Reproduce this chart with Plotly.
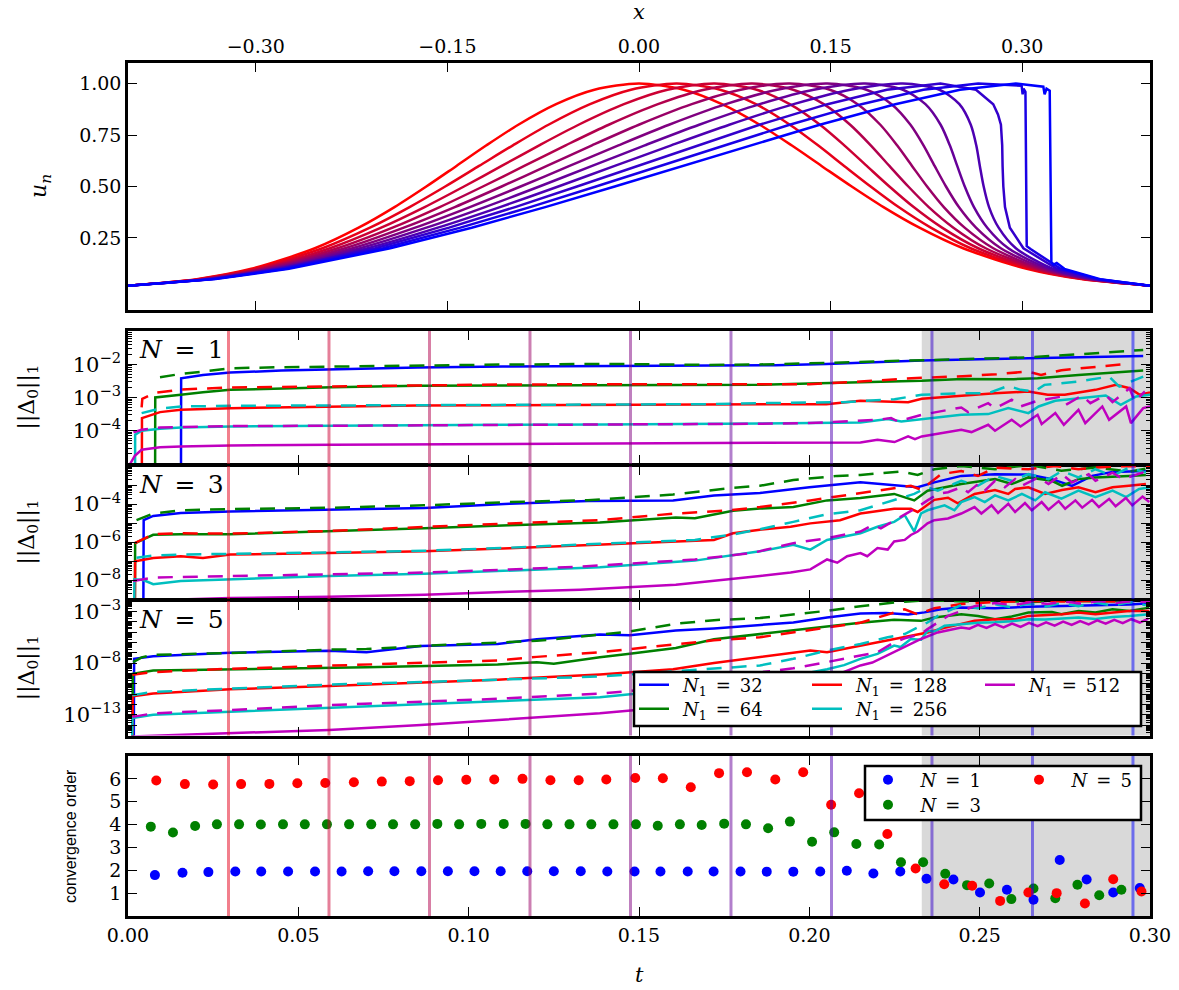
import plotly.graph_objects as go

W, H = 1179, 990
SERIF = "DejaVu Serif, Liberation Serif, serif"
SANS = "Liberation Sans, Arial, sans-serif"

# ---------------- snapshot profiles u_n(x) ----------------
snap_times = [0.0, 0.0295, 0.059, 0.0885, 0.118, 0.1475, 0.177, 0.2065, 0.236, 0.2655, 0.295]
t_break = 0.233

u_levels = [0.0183, 0.05, 0.1, 0.2, 0.3, 0.4, 0.5, 0.6, 0.7, 0.8, 0.9, 0.97, 1.0,
            0.97, 0.9, 0.8, 0.7, 0.6, 0.5, 0.4, 0.3, 0.2, 0.1, 0.05, 0.0183]
x_k0 = [-0.4, -0.3462, -0.3035, -0.2537, -0.2195, -0.1914, -0.1665, -0.1429, -0.1194, -0.0945, -0.0649, -0.0349, 0.0,
        0.0349, 0.0649, 0.0945, 0.1194, 0.1429, 0.1665, 0.1914, 0.2195, 0.2537, 0.3035, 0.3462, 0.4]
x_k1 = [-0.4, -0.3447, -0.3005, -0.2478, -0.2106, -0.1796, -0.1517, -0.1252, -0.0987, -0.0709, -0.0383, -0.0063, 0.0295,
        0.0635, 0.0915, 0.1181, 0.1401, 0.1606, 0.1813, 0.2032, 0.2284, 0.2596, 0.3065, 0.3477, 0.4]
x_k2 = [-0.4, -0.3432, -0.2976, -0.2419, -0.2018, -0.1678, -0.1370, -0.1075, -0.0781, -0.0473, -0.0118, 0.0223, 0.0590,
        0.0921, 0.1180, 0.1417, 0.1607, 0.1783, 0.1960, 0.2150, 0.2372, 0.2655, 0.3094, 0.3492, 0.4]
x_k3 = [-0.4, -0.3418, -0.2946, -0.2360, -0.1929, -0.1560, -0.1222, -0.0898, -0.0574, -0.0237, 0.0148, 0.0509, 0.0885,
        0.1207, 0.1446, 0.1653, 0.1814, 0.1960, 0.2108, 0.2268, 0.2461, 0.2714, 0.3124, 0.3506, 0.4]
x_k4 = [-0.4, -0.3403, -0.2917, -0.2301, -0.1841, -0.1442, -0.1075, -0.0721, -0.0368, -0.0001, 0.0413, 0.0796, 0.1180,
        0.1494, 0.1711, 0.1889, 0.2020, 0.2137, 0.2255, 0.2386, 0.2549, 0.2773, 0.3153, 0.3521, 0.4]
x_k5 = [-0.4, -0.3388, -0.2887, -0.2242, -0.1752, -0.1324, -0.0927, -0.0544, -0.0161, 0.0235, 0.0679, 0.1082, 0.1475,
        0.1780, 0.1977, 0.2125, 0.2227, 0.2314, 0.2403, 0.2504, 0.2638, 0.2832, 0.3183, 0.3536, 0.4]
x_k6 = [-0.4, -0.3373, -0.2858, -0.2183, -0.1664, -0.1206, -0.0780, -0.0367, 0.0045, 0.0471, 0.0944, 0.1368, 0.1770,
        0.2066, 0.2242, 0.2361, 0.2433, 0.2491, 0.2550, 0.2622, 0.2726, 0.2891, 0.3212, 0.3551, 0.4]
x_k7 = [-0.4, -0.3359, -0.2828, -0.2124, -0.1575, -0.1088, -0.0632, -0.0190, 0.0252, 0.0707, 0.1210, 0.1654, 0.2065,
        0.2352, 0.2508, 0.2597, 0.2640, 0.2668, 0.2698, 0.2740, 0.2815, 0.2950, 0.3242, 0.3565, 0.4]
x_k8 = [-0.4, -0.3344, -0.2799, -0.2065, -0.1487, -0.0970, -0.0485, -0.0013, 0.0458, 0.0943, 0.1475, 0.1940, 0.2360,
        0.2638, 0.2773, 0.2810, 0.2833, 0.2843, 0.2846, 0.2852, 0.2865, 0.2903, 0.3009, 0.3271, 0.3580, 0.4]
u_k8 = [0.0183, 0.05, 0.1, 0.2, 0.3, 0.4, 0.5, 0.6, 0.7, 0.8, 0.9, 0.97, 1.0,
        0.97, 0.9, 0.85, 0.8, 0.7, 0.6, 0.5, 0.4, 0.3, 0.2, 0.1, 0.05, 0.0183]
x_k9 = [-0.4, -0.3329, -0.2769, -0.2006, -0.1398, -0.0852, -0.0337, 0.0164, 0.0665, 0.1179, 0.1741, 0.2226, 0.2655,
        0.2850, 0.2995, 0.3003, 0.3010, 0.3025, 0.3035, 0.3068, 0.3301, 0.3595, 0.4]
u_k9 = [0.0183, 0.05, 0.1, 0.2, 0.3, 0.4, 0.5, 0.6, 0.7, 0.8, 0.9, 0.97, 1.0,
        0.995, 0.99, 0.948, 0.975, 0.96, 0.21, 0.195, 0.1, 0.05, 0.0183]
x_k10 = [-0.4, -0.3314, -0.2740, -0.1947, -0.1310, -0.0734, -0.0190, 0.0341, 0.0871, 0.1415, 0.2006, 0.2513, 0.2950,
         0.3100, 0.3165, 0.3175, 0.3190, 0.3215, 0.3228, 0.3245, 0.3270, 0.3330, 0.3610, 0.4]
u_k10 = [0.0183, 0.05, 0.1, 0.2, 0.3, 0.4, 0.5, 0.6, 0.7, 0.8, 0.9, 0.97, 1.0,
         0.99, 0.985, 0.948, 0.975, 0.965, 0.13, 0.12, 0.128, 0.1, 0.05, 0.0183]

# ---------------- error norms, log10 ||Delta_0||_1 ----------------
# N = 1
n1_s32_t = [0.0155, 0.0156, 0.022, 0.030, 0.045, 0.060, 0.085, 0.110, 0.140, 0.170, 0.190, 0.205, 0.215, 0.233, 0.250, 0.264, 0.280, 0.298]
n1_s32_v = [-9, -2.42, -2.32, -2.25, -2.19, -2.15, -2.10, -2.07, -2.05, -2.05, -2.03, -1.99, -1.95, -1.89, -1.85, -1.82, -1.79, -1.75]
n1_s64_t = [0.0079, 0.0080, 0.0155, 0.022, 0.030, 0.045, 0.060, 0.085, 0.110, 0.140, 0.170, 0.1855, 0.200, 0.215, 0.233, 0.245, 0.260, 0.267, 0.279, 0.298]
n1_s64_v = [-9, -3.00, -2.92, -2.84, -2.77, -2.72, -2.69, -2.65, -2.64, -2.63, -2.63, -2.62, -2.58, -2.54, -2.50, -2.44, -2.45, -2.42, -2.32, -2.19]
n1_s128_t = [0.0040, 0.0041, 0.0094, 0.0155, 0.030, 0.060, 0.085, 0.110, 0.140, 0.170, 0.1855, 0.205, 0.215, 0.229, 0.233, 0.245, 0.2545, 0.2643, 0.270, 0.275, 0.284, 0.290, 0.294, 0.297, 0.300]
n1_s128_v = [-9, -3.62, -3.44, -3.37, -3.32, -3.27, -3.24, -3.23, -3.22, -3.21, -3.19, -3.20, -3.10, -3.14, -3.04, -2.95, -2.87, -2.82, -2.92, -2.92, -2.77, -2.62, -2.72, -2.92, -2.85]
n1_s256_t = [0.0020, 0.0021, 0.0040, 0.0094, 0.0155, 0.030, 0.060, 0.085, 0.110, 0.140, 0.170, 0.1855, 0.215, 0.223, 0.227, 0.231, 0.2446, 0.2525, 0.2584, 0.2643, 0.2673, 0.2722, 0.280, 0.287, 0.2914, 0.296, 0.300]
n1_s256_v = [-9, -4.12, -4.00, -3.94, -3.90, -3.87, -3.85, -3.83, -3.82, -3.81, -3.80, -3.78, -3.75, -3.65, -3.72, -3.67, -3.52, -3.50, -3.32, -3.47, -3.27, -3.10, -3.02, -2.94, -3.22, -2.97, -2.92]
n1_s512_t = [0.0006, 0.0020, 0.0040, 0.0094, 0.0155, 0.030, 0.060, 0.085, 0.110, 0.140, 0.170, 0.1855, 0.215, 0.220, 0.225, 0.229, 0.231, 0.233, 0.2446, 0.2476, 0.2525, 0.2545, 0.2594, 0.262, 0.267, 0.2682, 0.2722, 0.2747, 0.279, 0.281, 0.286, 0.288, 0.293, 0.2944, 0.298, 0.300]
n1_s512_v = [-5.00, -4.75, -4.57, -4.50, -4.47, -4.44, -4.42, -4.41, -4.40, -4.40, -4.39, -4.37, -4.35, -4.27, -4.34, -4.17, -4.25, -4.17, -3.97, -4.04, -3.82, -4.00, -3.67, -3.87, -3.52, -3.80, -3.47, -3.82, -3.37, -3.77, -3.27, -3.67, -3.27, -3.77, -3.32, -3.27]
n1_d64_t = [0.0094, 0.015, 0.022, 0.030, 0.045, 0.060, 0.085, 0.110, 0.140, 0.170, 0.190, 0.205, 0.220, 0.235, 0.250, 0.265, 0.279, 0.290, 0.298]
n1_d64_v = [-2.39, -2.30, -2.22, -2.12, -2.09, -2.07, -2.03, -2.01, -1.99, -2.02, -2.00, -1.96, -1.91, -1.86, -1.83, -1.79, -1.70, -1.62, -1.57]
n1_d128_t = [0.0040, 0.0042, 0.008, 0.0155, 0.030, 0.060, 0.085, 0.110, 0.140, 0.170, 0.200, 0.215, 0.230, 0.245, 0.255, 0.264, 0.268, 0.274, 0.283, 0.292]
n1_d128_v = [-3.30, -3.04, -2.86, -2.76, -2.70, -2.66, -2.63, -2.61, -2.60, -2.61, -2.60, -2.52, -2.42, -2.36, -2.30, -2.22, -2.32, -2.18, -2.08, -2.00]
n1_d256_t = [0.0040, 0.0094, 0.0155, 0.030, 0.060, 0.085, 0.110, 0.140, 0.170, 0.1855, 0.210, 0.225, 0.233, 0.2446, 0.2525, 0.2584, 0.262, 0.266, 0.269, 0.279, 0.288, 0.291, 0.298]
n1_d256_v = [-3.47, -3.33, -3.27, -3.25, -3.24, -3.23, -3.22, -3.21, -3.20, -3.17, -3.14, -3.05, -2.92, -2.87, -2.87, -2.65, -2.77, -2.82, -2.62, -2.52, -2.37, -2.67, -2.37]
n1_d512_t = [0.0016, 0.0040, 0.0094, 0.030, 0.060, 0.085, 0.110, 0.140, 0.170, 0.1855, 0.200, 0.210, 0.220, 0.224, 0.226, 0.233, 0.237, 0.2446, 0.2466, 0.2525, 0.2545, 0.2594, 0.262, 0.267, 0.2742, 0.2757, 0.280, 0.2825, 0.287, 0.289, 0.294, 0.2955, 0.2985]
n1_d512_v = [-4.05, -3.97, -3.90, -3.86, -3.85, -3.84, -3.83, -3.82, -3.81, -3.79, -3.77, -3.73, -3.67, -3.62, -3.72, -3.52, -3.44, -3.30, -3.44, -3.17, -3.32, -3.07, -3.27, -3.10, -2.97, -3.20, -2.94, -3.17, -2.92, -3.14, -2.72, -3.12, -2.82]

# N = 3
n3_s32_t = [0.0045, 0.0046, 0.0074, 0.0155, 0.030, 0.059, 0.087, 0.112, 0.135, 0.160, 0.172, 0.1855, 0.200, 0.215, 0.223, 0.2318, 0.2367, 0.2446, 0.2545, 0.2643, 0.2712, 0.2771, 0.283, 0.289, 0.2988]
n3_s32_v = [-10, -4.85, -4.63, -4.47, -4.39, -4.28, -4.21, -3.99, -3.84, -3.81, -3.55, -3.42, -3.12, -2.86, -2.98, -3.12, -2.86, -2.52, -2.43, -2.45, -2.69, -3.05, -2.52, -2.31, -2.26]
n3_s64_t = [0.0020, 0.0021, 0.0074, 0.0155, 0.030, 0.059, 0.087, 0.112, 0.1385, 0.1608, 0.1664, 0.1776, 0.1855, 0.1953, 0.2052, 0.215, 0.2249, 0.2308, 0.2347, 0.2446, 0.2545, 0.2594, 0.2643, 0.2712, 0.2742, 0.279, 0.284, 0.2938, 0.2988]
n3_s64_v = [-10, -6.06, -5.62, -5.59, -5.59, -5.45, -5.28, -5.12, -4.97, -4.71, -4.75, -4.35, -4.24, -4.16, -3.81, -3.68, -3.47, -3.81, -3.30, -2.95, -2.69, -2.95, -2.60, -2.78, -3.04, -2.69, -2.60, -2.52, -2.47]
n3_s128_t = [0.0020, 0.0021, 0.0074, 0.0155, 0.022, 0.030, 0.059, 0.087, 0.112, 0.1385, 0.160, 0.172, 0.1776, 0.1855, 0.1945, 0.2003, 0.209, 0.215, 0.2249, 0.2298, 0.2318, 0.2367, 0.2407, 0.2436, 0.2485, 0.2545, 0.2584, 0.2604, 0.2643, 0.2692, 0.2742, 0.279, 0.284, 0.289, 0.2938, 0.2988]
n3_s128_v = [-10, -7.01, -6.84, -6.75, -6.84, -6.66, -6.58, -6.49, -6.33, -6.12, -5.97, -5.89, -5.54, -5.35, -5.20, -5.02, -4.85, -4.50, -4.25, -4.25, -4.42, -3.78, -3.67, -3.97, -3.47, -3.26, -3.47, -3.21, -3.12, -3.47, -3.26, -3.12, -3.38, -3.12, -3.04, -2.95]
n3_s256_t = [0.0018, 0.0019, 0.0045, 0.0074, 0.0155, 0.030, 0.059, 0.087, 0.112, 0.1385, 0.1664, 0.1776, 0.1855, 0.1953, 0.2003, 0.2052, 0.215, 0.220, 0.2249, 0.228, 0.2308, 0.2328, 0.2347, 0.2397, 0.2426, 0.2446, 0.2485, 0.2515, 0.2545, 0.2584, 0.2624, 0.2663, 0.2692, 0.274, 0.279, 0.284, 0.289, 0.293, 0.2968, 0.300]
n3_s256_v = [-10, -7.96, -8.00, -8.22, -8.05, -7.96, -7.79, -7.67, -7.50, -7.33, -6.98, -6.70, -6.49, -6.15, -6.40, -5.89, -5.54, -5.20, -4.94, -4.59, -5.45, -4.50, -4.33, -4.07, -4.33, -3.90, -3.64, -3.90, -3.55, -3.81, -3.47, -3.81, -3.38, -3.72, -3.30, -3.64, -3.30, -3.64, -3.21, -3.12]
n3_s512_t = [0.0010, 0.030, 0.059, 0.087, 0.112, 0.1327, 0.1608, 0.1776, 0.1855, 0.1945, 0.2003, 0.2052, 0.2082, 0.2111, 0.215, 0.217, 0.220, 0.223, 0.2249, 0.228, 0.2298, 0.2318, 0.2347, 0.2367, 0.2407, 0.2446, 0.2485, 0.2505, 0.2535, 0.2554, 0.2584, 0.2604, 0.2633, 0.2653, 0.2682, 0.2702, 0.2732, 0.2751, 0.2781, 0.2801, 0.2830, 0.2850, 0.2880, 0.2899, 0.2929, 0.2948, 0.2978, 0.2998]
n3_s512_v = [-9.10, -8.95, -8.88, -8.77, -8.62, -8.51, -8.25, -7.96, -7.79, -7.61, -7.44, -6.92, -7.09, -6.75, -6.58, -6.75, -6.32, -6.40, -5.97, -5.89, -5.63, -5.45, -5.02, -4.85, -4.76, -4.50, -4.16, -4.50, -4.07, -4.47, -3.99, -4.42, -3.95, -4.33, -3.90, -4.30, -3.85, -4.25, -3.81, -4.19, -3.78, -4.16, -3.73, -4.12, -3.68, -4.07, -3.61, -3.90]
n3_d64_t = [0.0025, 0.0074, 0.0155, 0.030, 0.059, 0.087, 0.112, 0.135, 0.160, 0.1776, 0.1855, 0.1953, 0.2082, 0.215, 0.2269, 0.2318, 0.2367, 0.242, 0.2446, 0.2545, 0.2643, 0.274, 0.284, 0.294, 0.300]
n3_d64_v = [-4.85, -4.50, -4.33, -4.27, -4.20, -4.07, -3.90, -3.80, -3.50, -3.15, -3.04, -2.74, -2.52, -2.47, -2.29, -2.47, -2.17, -2.05, -2.00, -2.17, -1.95, -2.25, -2.08, -2.30, -2.10]
n3_d128_t = [0.0020, 0.0074, 0.0155, 0.030, 0.059, 0.087, 0.112, 0.1385, 0.1608, 0.1755, 0.1855, 0.2003, 0.215, 0.2298, 0.2328, 0.2387, 0.2446, 0.2495, 0.2545, 0.2643, 0.2722, 0.279, 0.2842, 0.2938, 0.300]
n3_d128_v = [-6.06, -5.59, -5.54, -5.56, -5.42, -5.20, -5.02, -4.85, -4.50, -4.35, -4.16, -3.81, -3.43, -3.04, -3.25, -2.43, -2.26, -2.52, -2.09, -2.17, -2.00, -2.17, -2.08, -2.00, -2.05]
n3_d256_t = [0.0025, 0.0074, 0.0155, 0.030, 0.059, 0.087, 0.112, 0.1385, 0.1664, 0.1776, 0.1855, 0.1953, 0.2052, 0.215, 0.2249, 0.2308, 0.2347, 0.2377, 0.2446, 0.2495, 0.2545, 0.2594, 0.2643, 0.2702, 0.2742, 0.279, 0.284, 0.289, 0.2938, 0.2988]
n3_d256_v = [-6.83, -6.71, -6.66, -6.63, -6.55, -6.46, -6.30, -6.09, -5.89, -5.60, -5.33, -4.94, -4.54, -4.33, -3.78, -3.47, -3.12, -3.30, -2.78, -3.04, -2.52, -2.78, -2.43, -2.69, -2.26, -2.60, -2.17, -2.52, -2.09, -2.35]
n3_d512_t = [0.0015, 0.0074, 0.0155, 0.030, 0.059, 0.087, 0.112, 0.1327, 0.1664, 0.1832, 0.1953, 0.2052, 0.215, 0.2185, 0.221, 0.2269, 0.2318, 0.2347, 0.2377, 0.2407, 0.2446, 0.2466, 0.2495, 0.2515, 0.2545, 0.2574, 0.2604, 0.2624, 0.2673, 0.2702, 0.2742, 0.2771, 0.282, 0.284, 0.289, 0.292, 0.2978, 0.300]
n3_d512_v = [-8.05, -7.87, -7.84, -7.79, -7.70, -7.61, -7.45, -7.30, -6.92, -6.58, -6.06, -5.80, -5.45, -5.11, -5.28, -4.68, -4.16, -3.81, -3.47, -3.38, -3.12, -3.38, -2.95, -3.30, -2.78, -3.12, -2.69, -3.04, -2.60, -2.95, -2.43, -2.87, -2.43, -2.78, -2.35, -2.69, -2.35, -2.60]

# N = 5
n5_s32_t = [0.0017, 0.0018, 0.0074, 0.0155, 0.030, 0.059, 0.070, 0.086, 0.1085, 0.120, 0.1385, 0.1473, 0.1608, 0.172, 0.1855, 0.1953, 0.2052, 0.215, 0.2225, 0.229, 0.2338, 0.2387, 0.2446, 0.2545, 0.2643, 0.274, 0.284, 0.294, 0.2998]
n5_s32_v = [-16, -7.59, -7.34, -7.20, -7.00, -6.80, -6.95, -6.35, -6.15, -5.70, -5.25, -5.30, -4.85, -4.65, -4.33, -4.08, -3.60, -3.20, -3.15, -3.30, -3.10, -2.80, -2.64, -2.70, -2.55, -2.48, -2.45, -2.35, -2.22]
n5_s64_t = [0.0013, 0.0014, 0.0074, 0.030, 0.059, 0.070, 0.1085, 0.120, 0.125, 0.1385, 0.1473, 0.1608, 0.172, 0.1855, 0.1953, 0.2052, 0.215, 0.2249, 0.2328, 0.2367, 0.2446, 0.2495, 0.2545, 0.2594, 0.2643, 0.2712, 0.274, 0.279, 0.284, 0.289, 0.294, 0.2998]
n5_s64_v = [-16, -9.03, -8.71, -8.60, -8.45, -8.40, -8.13, -7.91, -8.07, -7.43, -7.10, -6.55, -5.70, -5.20, -4.80, -4.45, -4.10, -3.82, -3.92, -3.60, -3.28, -3.44, -3.76, -3.50, -3.12, -3.06, -3.28, -2.96, -3.12, -2.80, -2.96, -2.64]
n5_s128_t = [0.0013, 0.0014, 0.0074, 0.030, 0.059, 0.086, 0.1085, 0.1385, 0.160, 0.172, 0.1855, 0.1953, 0.2003, 0.2052, 0.215, 0.2249, 0.2347, 0.2397, 0.2446, 0.2485, 0.2545, 0.2604, 0.2643, 0.2742, 0.279, 0.284, 0.2938, 0.2998]
n5_s128_v = [-16, -11.20, -10.95, -10.53, -10.21, -9.89, -9.60, -9.10, -8.60, -8.00, -7.43, -7.00, -6.79, -6.95, -6.31, -5.67, -5.04, -4.60, -4.24, -3.92, -3.76, -3.76, -3.44, -3.28, -3.12, -3.28, -2.96, -2.96]
n5_s256_t = [0.0012, 0.0013, 0.0074, 0.030, 0.059, 0.086, 0.1085, 0.1385, 0.160, 0.1855, 0.1953, 0.2003, 0.2052, 0.2102, 0.215, 0.220, 0.2249, 0.2268, 0.2298, 0.2328, 0.2347, 0.2367, 0.2397, 0.2446, 0.2495, 0.2545, 0.2594, 0.2643, 0.2692, 0.2742, 0.279, 0.284, 0.289, 0.294, 0.2998]
n5_s256_v = [-16, -13.30, -13.00, -12.70, -12.30, -12.00, -11.70, -11.30, -10.60, -9.60, -9.19, -8.90, -8.60, -8.20, -7.59, -7.11, -6.31, -6.45, -5.67, -5.75, -4.88, -4.95, -4.40, -4.24, -4.10, -4.05, -3.95, -3.76, -3.80, -3.70, -3.60, -3.75, -3.55, -3.45, -3.28]
n5_s512_t = [0.0010, 0.030, 0.059, 0.086, 0.1085, 0.1385, 0.1608, 0.1855, 0.2052, 0.2111, 0.215, 0.2185, 0.2229, 0.2269, 0.2298, 0.2328, 0.2377, 0.2407, 0.2446,
             0.2470, 0.2495, 0.2520, 0.2545, 0.2570, 0.2595, 0.2620, 0.2645, 0.2670, 0.2695, 0.2720, 0.2745, 0.2770, 0.2795, 0.2820, 0.2845, 0.2870, 0.2895, 0.2920, 0.2945, 0.2970, 0.2995]
n5_s512_v = [-15.10, -14.80, -14.46, -13.98, -13.50, -12.86, -12.20, -11.20, -9.51, -8.71, -8.23, -7.95, -7.27, -6.63, -6.20, -5.67, -5.04, -4.80, -4.56,
             -4.68, -4.30, -4.61, -4.23, -4.56, -4.18, -4.50, -4.12, -4.44, -4.06, -4.38, -4.00, -4.32, -3.94, -4.26, -3.88, -4.20, -3.82, -4.14, -3.76, -4.08, -3.70]
n5_d64_t = [0.0015, 0.0040, 0.0074, 0.030, 0.059, 0.070, 0.086, 0.1085, 0.120, 0.1385, 0.1473, 0.1608, 0.172, 0.1855, 0.1953, 0.2052, 0.215, 0.225, 0.235, 0.245, 0.255, 0.265, 0.275, 0.285, 0.295]
n5_d64_v = [-7.91, -7.45, -7.21, -7.02, -6.70, -6.65, -6.35, -6.00, -5.85, -5.25, -4.95, -4.20, -3.85, -3.65, -3.30, -2.95, -2.50, -2.15, -1.90, -2.05, -1.95, -2.10, -1.95, -2.05, -1.95]
n5_d128_t = [0.0013, 0.0074, 0.030, 0.059, 0.086, 0.1085, 0.120, 0.1385, 0.1473, 0.1608, 0.172, 0.1855, 0.1953, 0.2052, 0.215, 0.2249, 0.228, 0.2318, 0.2367, 0.2446, 0.2545, 0.2643, 0.274, 0.284, 0.294]
n5_d128_v = [-9.12, -8.87, -8.55, -8.23, -7.97, -7.75, -7.40, -6.95, -6.65, -6.20, -5.80, -5.50, -5.04, -4.56, -4.10, -3.12, -2.80, -3.30, -2.70, -2.30, -2.10, -2.00, -2.05, -2.00, -2.10]
n5_d256_t = [0.0013, 0.0074, 0.030, 0.059, 0.086, 0.1085, 0.1385, 0.160, 0.172, 0.1855, 0.1953, 0.2052, 0.215, 0.2185, 0.223, 0.228, 0.2347, 0.2377, 0.2417,
             0.2446, 0.2495, 0.2545, 0.2594, 0.2643, 0.2692, 0.274, 0.279, 0.284, 0.289, 0.294, 0.2988]
n5_d256_v = [-11.10, -10.79, -10.47, -10.08, -9.83, -9.60, -9.30, -8.80, -8.55, -8.23, -7.59, -6.79, -6.15, -5.85, -5.51, -5.19, -4.08, -3.44, -2.80,
             -2.40, -2.70, -2.30, -2.60, -2.25, -2.55, -2.20, -2.50, -2.15, -2.45, -2.10, -2.40]
n5_d512_t = [0.0013, 0.0074, 0.030, 0.059, 0.086, 0.1085, 0.1385, 0.1608, 0.1855, 0.1953, 0.2052, 0.210, 0.215, 0.220, 0.2249, 0.228, 0.2328, 0.2347, 0.2407, 0.2446, 0.2485, 0.2545, 0.260, 0.265, 0.270, 0.275, 0.280, 0.285, 0.290, 0.295, 0.300]
n5_d512_v = [-13.20, -12.86, -12.54, -12.06, -11.74, -11.45, -10.95, -10.30, -8.90, -8.50, -7.90, -7.60, -7.30, -6.95, -5.99, -5.60, -5.20, -4.72, -3.44, -3.00, -2.50, -2.20, -2.40, -2.10, -2.30, -2.05, -2.25, -2.00, -2.20, -2.00, -2.10]

# ---------------- convergence order ----------------
order_n1_t = [0.0079, 0.0160, 0.0236, 0.0315, 0.0391, 0.0470, 0.0549, 0.0627, 0.0705, 0.0782, 0.0861, 0.0939, 0.1017, 0.1094, 0.1172, 0.1250, 0.1329,
              0.1407, 0.1487, 0.1563, 0.1643, 0.1719, 0.1798, 0.1875, 0.1953, 0.2032, 0.2110, 0.2188, 0.2267, 0.2344, 0.2423, 0.2501, 0.2580, 0.2658, 0.2735, 0.2814, 0.2892, 0.2970]
order_n1_v = [1.79, 1.89, 1.92, 1.95, 1.95, 1.95, 1.95, 1.95, 1.96, 1.96, 1.96, 1.96, 1.96, 1.96, 1.96, 1.96, 1.96,
              1.95, 1.95, 1.95, 1.95, 1.95, 1.95, 1.94, 1.94, 1.95, 1.98, 1.86, 1.95, 1.63, 1.60, 1.03, 1.15, 0.71, 2.45, 1.60, 1.03, 1.22]
order_n3_t = [0.0067, 0.0132, 0.0197, 0.0261, 0.0326, 0.0390, 0.0455, 0.0519, 0.0584, 0.0649, 0.0714, 0.0778, 0.0843, 0.0908, 0.0972, 0.1037, 0.1103, 0.1167, 0.1231, 0.1296,
              0.1360, 0.1425, 0.1491, 0.1555, 0.1620, 0.1684, 0.1750, 0.1814, 0.1879, 0.1943, 0.2008, 0.2073, 0.2138, 0.2205, 0.2269, 0.2334, 0.2399, 0.2463, 0.2528, 0.2593,
              0.2658, 0.2722, 0.2787, 0.2851, 0.2916]
order_n3_v = [3.91, 3.65, 3.94, 4.01, 4.01, 4.00, 4.01, 4.01, 4.01, 4.01, 4.01, 4.01, 4.01, 4.03, 4.01, 4.03, 4.03, 4.03, 4.01, 4.01,
              4.01, 4.01, 4.01, 3.95, 4.01, 3.98, 4.04, 4.01, 3.84, 4.13, 3.25, 3.66, 3.15, 3.13, 2.35, 2.35, 1.85, 1.35, 1.42, 0.74,
              1.20, 0.78, 1.37, 0.91, 1.15]
order_n5_t = [0.0083, 0.0167, 0.0250, 0.0332, 0.0415, 0.0497, 0.0579, 0.0663, 0.0745, 0.0827, 0.0910, 0.0993, 0.1075, 0.1158, 0.1240, 0.1323,
              0.1404, 0.1489, 0.1570, 0.1652, 0.1735, 0.1817, 0.1900, 0.1982, 0.2064, 0.2146, 0.2229, 0.2312, 0.2396, 0.2478, 0.2560, 0.2643, 0.2726, 0.2809, 0.2892, 0.2975]
order_n5_v = [5.93, 5.77, 5.75, 5.77, 5.78, 5.81, 5.82, 5.85, 5.88, 5.90, 5.94, 5.96, 5.97, 6.00, 5.94, 5.94,
              5.97, 6.04, 6.03, 5.63, 6.25, 6.29, 5.97, 6.29, 4.87, 5.37, 3.59, 2.08, 1.39, 1.32, 0.66, 1.03, 1.00, 0.55, 1.61, 1.07]

t_ticks = [0.0, 0.05, 0.10, 0.15, 0.20, 0.25, 0.30]
x_ticks = [-0.30, -0.15, 0.0, 0.15, 0.30]

# ---------------- styling ----------------
BLUE, GREEN, RED, CYAN, MAGENTA = "#0000ff", "#008000", "#ff0000", "#00bfbf", "#bf00bf"
N1_COLORS = {32: BLUE, 64: GREEN, 128: RED, 256: CYAN, 512: MAGENTA}
LW = 2.5
DASH = "15px,10px"


def px_x(p):
    return p / W


def px_y(p):
    return 1 - p / H


XL, XR = 128, 1150
# stacked error panels overlap slightly so their shared frame lines merge
PANELS = {"top": (63, 310), 2: (331, 464), 3: (466, 599), 4: (601, 735.5), 5: (756, 916)}


def ydom(key):
    top, bot = PANELS[key]
    return [px_y(bot), px_y(top)]


def snap_color(k, alpha=1.0):
    f = k / 10.0
    return "rgba(%d,0,%d,%.2f)" % (round(255 * (1 - f)), round(255 * f), alpha)


fig = go.Figure()

# top panel: profiles
snap_x = [x_k0, x_k1, x_k2, x_k3, x_k4, x_k5, x_k6, x_k7, x_k8, x_k9, x_k10]
snap_u = [u_levels] * 8 + [u_k8, u_k9, u_k10]
for k, (xs, us) in enumerate(zip(snap_x, snap_u)):
    smooth = k <= 7
    fig.add_trace(go.Scatter(
        x=xs, y=us, mode="lines", xaxis="x", yaxis="y", showlegend=False,
        line=dict(color=snap_color(k), width=LW, shape="spline" if smooth else "linear",
                  smoothing=0.8 if smooth else None),
        hoverinfo="skip"))

# error panels
err_sets = {
    2: {"s": {32: (n1_s32_t, n1_s32_v), 64: (n1_s64_t, n1_s64_v), 128: (n1_s128_t, n1_s128_v),
              256: (n1_s256_t, n1_s256_v), 512: (n1_s512_t, n1_s512_v)},
        "d": {64: (n1_d64_t, n1_d64_v), 128: (n1_d128_t, n1_d128_v),
              256: (n1_d256_t, n1_d256_v), 512: (n1_d512_t, n1_d512_v)}},
    3: {"s": {32: (n3_s32_t, n3_s32_v), 64: (n3_s64_t, n3_s64_v), 128: (n3_s128_t, n3_s128_v),
              256: (n3_s256_t, n3_s256_v), 512: (n3_s512_t, n3_s512_v)},
        "d": {64: (n3_d64_t, n3_d64_v), 128: (n3_d128_t, n3_d128_v),
              256: (n3_d256_t, n3_d256_v), 512: (n3_d512_t, n3_d512_v)}},
    4: {"s": {32: (n5_s32_t, n5_s32_v), 64: (n5_s64_t, n5_s64_v), 128: (n5_s128_t, n5_s128_v),
              256: (n5_s256_t, n5_s256_v), 512: (n5_s512_t, n5_s512_v)},
        "d": {64: (n5_d64_t, n5_d64_v), 128: (n5_d128_t, n5_d128_v),
              256: (n5_d256_t, n5_d256_v), 512: (n5_d512_t, n5_d512_v)}},
}
row_of = {32: "legend", 128: "legend", 512: "legend", 64: "legend2", 256: "legend2"}

for p, sets in err_sets.items():
    for n1, (ts, vs) in sets["s"].items():
        fig.add_trace(go.Scatter(
            x=ts, y=[10 ** v for v in vs], mode="lines", xaxis="x%d" % p, yaxis="y%d" % p,
            line=dict(color=N1_COLORS[n1], width=LW),
            name="\u2002<i>N</i><sub>1</sub>\u2002=\u2002%d" % n1,
            showlegend=(p == 2), legend=row_of[n1], hoverinfo="skip"))
    for n1, (ts, vs) in sets["d"].items():
        fig.add_trace(go.Scatter(
            x=ts, y=[10 ** v for v in vs], mode="lines", xaxis="x%d" % p, yaxis="y%d" % p,
            line=dict(color=N1_COLORS[n1], width=LW, dash=DASH),
            showlegend=False, hoverinfo="skip"))

# convergence order
for ts, vs, col, lab, lg in [(order_n1_t, order_n1_v, BLUE, "1", "legend3"),
                             (order_n3_t, order_n3_v, GREEN, "3", "legend4"),
                             (order_n5_t, order_n5_v, RED, "5", "legend3")]:
    fig.add_trace(go.Scatter(
        x=ts, y=vs, mode="markers", xaxis="x5", yaxis="y5",
        marker=dict(color=col, size=10, line=dict(width=0)),
        name="\u2002\u2009<i>N</i>\u2002=\u2002" + lab, legend=lg, hoverinfo="skip"))

# ---------------- axes ----------------
tickfont = dict(family=SERIF, size=19, color="black")
logtickfont = dict(family=SERIF, size=21, color="black")
base = dict(showline=True, linecolor="black", linewidth=2.5, mirror="allticks", ticks="inside",
            ticklen=9, tickwidth=1.3, tickcolor="black", showgrid=False, zeroline=False,
            tickfont=tickfont, automargin=False)
minor_log = dict(ticks="inside", ticklen=4, tickwidth=1, tickcolor="black", dtick="D1", showgrid=False)


def sup(e):
    return "10<sup>\u2212%d</sup>" % (-e)


def log_ticks(lo, hi, labelled):
    vals, text = [], []
    for e in range(lo, hi + 1):
        vals.append(10.0 ** e)
        text.append(sup(e) if e in labelled else "")
    return vals, text


layout = dict(width=W, height=H, margin=dict(l=0, r=0, t=0, b=0),
              paper_bgcolor="white", plot_bgcolor="white", showlegend=True)

xd = [px_x(XL), px_x(XR)]
layout["xaxis"] = dict(base, domain=xd, anchor="y", side="top", range=[-0.4, 0.4],
                       tickmode="array", tickvals=x_ticks,
                       ticktext=["\u22120.30", "\u22120.15", "0.00", "0.15", "0.30"])
layout["yaxis"] = dict(base, domain=ydom("top"), anchor="x", range=[-0.1, 1.1],
                       tickmode="array", tickvals=[0.25, 0.5, 0.75, 1.0],
                       ticktext=["0.25", "0.50", "0.75", "1.00"])

log_specs = {2: (-5, -1, [-4, -3, -2]), 3: (-9, -2, [-8, -6, -4]), 4: (-15, -2, [-13, -8, -3])}
for p in (2, 3, 4, 5):
    layout["xaxis%d" % p] = dict(base, domain=xd, anchor="y%d" % p, range=[0, 0.3],
                                 tickmode="array", tickvals=t_ticks,
                                 ticktext=["%.2f" % v for v in t_ticks], showticklabels=(p == 5))
for p, (lo, hi, lab) in log_specs.items():
    vals, text = log_ticks(lo, hi, lab)
    layout["yaxis%d" % p] = dict(base, domain=ydom(p), anchor="x%d" % p, type="log",
                                 range=[lo, hi], tickmode="array", tickvals=vals, ticktext=text,
                                 tickfont=logtickfont, minor=minor_log)
layout["yaxis5"] = dict(base, domain=ydom(5), anchor="x5", range=[0, 7],
                        tickmode="array", tickvals=[1, 2, 3, 4, 5, 6],
                        ticktext=["1", "2", "3", "4", "5", "6"])

# ---------------- shapes: shaded region, snapshot markers, legend boxes ----------------
shapes = []
for p in (2, 3, 4, 5):
    shapes.append(dict(type="rect", xref="x%d" % p, yref="y%d domain" % p, x0=t_break, x1=0.3,
                       y0=0, y1=1, fillcolor="#d9d9d9", line=dict(width=0), layer="below"))
for p in (2, 3, 4, 5):
    for k in range(1, len(snap_times)):
        shapes.append(dict(type="line", xref="x%d" % p, yref="y%d domain" % p,
                           x0=snap_times[k], x1=snap_times[k], y0=0, y1=1,
                           line=dict(color=snap_color(k, 0.5), width=3), layer="above"))
shapes.append(dict(type="rect", xref="paper", yref="paper", x0=px_x(634), x1=px_x(1141),
                   y0=px_y(726), y1=px_y(672), fillcolor="white",
                   line=dict(color="black", width=2.5), layer="above"))
shapes.append(dict(type="rect", xref="paper", yref="paper", x0=px_x(865), x1=px_x(1141),
                   y0=px_y(820), y1=px_y(766), fillcolor="white",
                   line=dict(color="black", width=2.5), layer="above"))
layout["shapes"] = shapes

leg_common = dict(orientation="h", xanchor="left", yanchor="middle", bgcolor="rgba(0,0,0,0)",
                  borderwidth=0, font=dict(family=SERIF, size=18, color="black"),
                  entrywidthmode="pixels", itemwidth=30, tracegroupgap=0, traceorder="normal")
layout["legend"] = dict(leg_common, x=px_x(634), y=px_y(685), entrywidth=128)
layout["legend2"] = dict(leg_common, x=px_x(634), y=px_y(709), entrywidth=128)
layout["legend3"] = dict(leg_common, x=px_x(868), y=px_y(780), entrywidth=106)
layout["legend4"] = dict(leg_common, x=px_x(868), y=px_y(805), entrywidth=106)

# ---------------- text ----------------
ann = []


def label(text, xp, yp, size, family=SERIF, angle=0, xanchor="center", yanchor="middle"):
    ann.append(dict(text=text, x=px_x(xp), y=px_y(yp), xref="paper", yref="paper",
                    xanchor=xanchor, yanchor=yanchor, showarrow=False, textangle=angle,
                    font=dict(family=family, size=size, color="black")))


label("<i>x</i>", 639, 12, 21)
label("<i>t</i>", 639, 975, 21)
label("<i>u<sub>n</sub></i>", 40, 186, 22, angle=-90)
for p in (2, 3, 4):
    top, bot = PANELS[p]
    label("||\u0394<sub>0</sub>||<sub>1</sub>", 28, (top + bot) / 2, 22, angle=-90)
for p, lab in ((2, "1"), (3, "3"), (4, "5")):
    top, _ = PANELS[p]
    label("<i>N</i>\u2002=\u2002" + lab, 137, top + 2, 25, xanchor="left", yanchor="top")
label("convergence order", 70, 836, 16, family=SANS, angle=-90)
layout["annotations"] = ann

fig.update_layout(layout)
fig.write_html("out.html")
